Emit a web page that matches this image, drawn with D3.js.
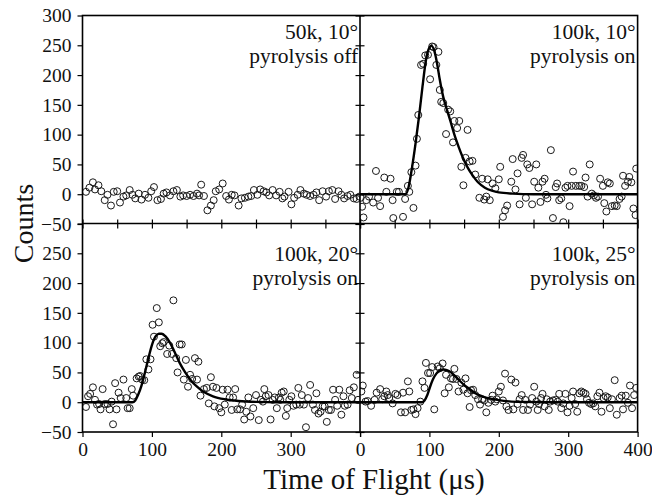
<!DOCTYPE html>
<html>
<head>
<meta charset="utf-8">
<script src="https://cdn.jsdelivr.net/npm/d3@7"></script>
<style>
  body { margin: 0; background: #fff; }
  svg text { font-family: "Liberation Serif", "Times New Roman", serif; fill: #111; }
</style>
</head>
<body>
<div id="chart"></div>
<script>
// time of flight (us) / counts, one array per panel
const offPts = [[5,4],[10,11],[15,20],[18,8],[23,15],[27,5],[32,-10],[36,-1],[41,-19],[45,4],[50,5],[54,-14],[59,-4],[63,-2],[68,7],[72,-1],[76,-7],[81,1],[85,-9],[90,-1],[95,-6],[99,5],[103,12],[108,-10],[113,-8],[117,1],[121,3],[126,-2],[131,5],[136,7],[141,-4],[145,-2],[150,-3],[155,-1],[160,-3],[165,1],[168,-2],[171,16],[175,-3],[180,-27],[185,-19],[189,-10],[192,5],[197,8],[202,18],[207,-3],[211,-9],[215,-1],[219,-2],[225,-19],[229,-7],[234,-6],[239,-4],[243,-3],[247,7],[252,-1],[256,8],[261,5],[265,3],[269,-2],[274,7],[279,-2],[284,4],[288,-7],[291,-4],[297,4],[301,-17],[305,-6],[310,-1],[314,7],[319,1],[323,-1],[328,-3],[333,-1],[337,3],[341,-10],[346,5],[351,-4],[355,5],[360,7],[364,-8],[369,5],[373,-1],[377,-7],[382,-3],[386,-1],[391,-7],[395,-8],[399,-4]];

const on10Pts = [[1,-6],[3,-21],[5,-39],[9,-10],[13,-4],[19,-14],[23,39],[26,-6],[29,-20],[35,28],[38,4],[44,26],[47,-10],[48,-40],[53,4],[56,4],[62,-38],[65,-8],[69,14],[71,4],[74,37],[77,-23],[80,48],[82,93],[84,133],[88,217],[91,219],[94,233],[98,234],[101,193],[104,248],[106,247],[110,217],[113,239],[115,175],[117,155],[120,153],[124,101],[127,142],[130,139],[134,87],[136,123],[140,111],[143,123],[146,46],[149,15],[152,61],[155,108],[158,55],[162,56],[166,33],[172,-6],[176,26],[179,-9],[182,-4],[184,25],[187,-10],[191,18],[195,10],[200,25],[202,46],[206,-38],[209,-27],[212,-19],[218,21],[220,59],[224,8],[227,35],[230,-17],[233,61],[235,66],[239,-6],[241,50],[244,44],[248,-17],[251,21],[254,50],[257,11],[260,-13],[263,21],[266,26],[268,-1],[270,-7],[275,74],[278,-40],[282,12],[284,18],[287,-10],[290,-7],[293,-47],[296,11],[299,14],[302,-20],[305,14],[307,38],[311,14],[316,14],[319,14],[323,12],[325,28],[328,-4],[331,50],[334,1],[337,-2],[340,-6],[343,-4],[346,26],[350,14],[352,-15],[355,-29],[357,20],[360,18],[363,-20],[367,-19],[370,-20],[374,-8],[377,-4],[379,31],[382,14],[386,21],[388,29],[391,20],[394,-24],[397,-35],[398,43]];

const on20Pts = [[5,-8],[8,10],[11,14],[15,25],[18,4],[21,-4],[24,-3],[26,-12],[29,22],[32,-3],[36,-3],[39,-12],[42,1],[44,-37],[47,32],[49,-12],[52,16],[55,7],[59,38],[63,7],[65,-10],[68,-10],[71,22],[73,11],[78,40],[81,43],[83,44],[86,38],[89,37],[92,72],[95,55],[98,72],[101,130],[103,110],[107,158],[110,134],[112,94],[115,99],[117,101],[122,81],[125,95],[129,81],[131,171],[135,74],[137,50],[140,97],[143,97],[146,38],[149,71],[152,26],[155,46],[158,39],[162,74],[165,38],[167,68],[170,11],[175,22],[179,24],[182,-2],[185,42],[188,26],[190,-7],[193,24],[197,-10],[200,-17],[202,21],[205,-4],[209,21],[212,8],[215,-13],[217,8],[220,22],[223,-12],[227,-12],[230,-4],[233,-29],[236,-16],[239,8],[242,-24],[246,-10],[250,12],[254,-30],[257,4],[260,1],[262,22],[264,10],[268,12],[271,-29],[274,4],[277,8],[280,-10],[283,8],[285,4],[287,16],[290,18],[293,-23],[295,-10],[298,4],[301,10],[304,-6],[308,-4],[311,24],[313,-4],[316,12],[319,-4],[322,-42],[325,7],[328,29],[332,-4],[335,-13],[337,15],[340,-19],[343,-16],[346,-7],[349,-7],[352,-33],[355,-13],[358,-13],[361,21],[364,4],[367,-6],[370,21],[373,-21],[376,10],[378,-6],[382,-4],[385,20],[388,7],[391,25],[395,46],[397,4]];

const on25Pts = [[2,18],[4,28],[8,1],[11,2],[16,-6],[21,4],[24,16],[29,22],[32,5],[35,10],[38,18],[40,12],[42,7],[47,-2],[51,14],[54,12],[59,-17],[62,16],[65,-17],[69,35],[71,18],[74,-13],[77,-12],[80,-20],[83,-10],[87,1],[90,35],[93,24],[95,66],[98,49],[101,49],[104,59],[107,-12],[112,60],[115,57],[119,65],[122,15],[124,46],[128,25],[131,40],[134,39],[136,56],[139,39],[142,18],[146,33],[149,21],[152,40],[155,15],[158,-8],[160,20],[163,21],[166,12],[170,5],[173,-4],[176,5],[179,3],[182,-17],[185,-1],[189,4],[191,11],[195,1],[197,5],[200,18],[203,26],[206,3],[209,48],[211,-7],[214,-13],[218,38],[221,-12],[224,33],[227,-3],[230,5],[233,12],[235,-13],[238,4],[242,-13],[245,-4],[248,7],[251,26],[254,1],[256,-13],[258,-3],[261,7],[263,14],[266,-7],[269,5],[272,-13],[274,1],[278,3],[282,4],[285,1],[287,14],[290,-10],[293,-2],[296,14],[299,-17],[302,-6],[305,7],[307,18],[310,-3],[313,-16],[316,15],[319,18],[322,16],[325,14],[327,5],[330,-1],[333,-3],[336,-2],[339,-7],[342,10],[345,16],[348,-16],[351,7],[354,10],[357,8],[360,-10],[363,5],[367,37],[370,-21],[374,7],[377,11],[379,-12],[383,11],[386,-1],[389,28],[392,-10],[395,12],[398,24]];

// fitted curves
const on10Fit = [[0,0],[66,0],[70,12],[75,45],[80,85],[85,130],[90,180],[95,225],[100,246],[103,249],[107,241],[111,220],[115,192],[120,163],[125,143],[130,124],[136,100],[142,80],[148,62],[155,45],[162,32],[170,20],[180,11],[190,6],[200,3],[220,1],[250,0],[400,0]];
const on20Fit = [[0,0],[72,0],[76,3],[80,12],[85,28],[90,50],[95,74],[100,96],[105,110],[110,115],[114,115],[120,110],[126,100],[132,86],[140,66],[148,50],[156,37],[165,26],[175,17],[188,10],[205,5],[225,2],[250,0.5],[280,0],[400,0]];
const on25Fit = [[0,0],[89,0],[93,3],[97,12],[101,26],[105,38],[110,48],[115,53],[120,55],[125,54],[130,51],[136,45],[142,38],[150,29],[158,22],[166,15],[176,10],[188,6],[200,3.5],[215,1.5],[235,0.5],[260,0],[400,0]];

const panelLabels = [["50k, 10°", "pyrolysis off"], ["100k, 10°", "pyrolysis on"], ["100k, 20°", "pyrolysis on"], ["100k, 25°", "pyrolysis on"]];

const xMajor = [0, 100, 200, 300, 400];
const xMinor = [50, 150, 250, 350];
const yMajor = [-50, 0, 50, 100, 150, 200, 250, 300];
const yMinor = [-25, 25, 75, 125, 175, 225, 275];

const W = 652, H = 499;
const colX = [82.5, 360], pw = 277.6;
const rowY = [15.5, 223.5], ph = 208.5;

const panels = [
  {c: 0, r: 0, pts: offPts, fit: null, lab: panelLabels[0]},
  {c: 1, r: 0, pts: on10Pts, fit: on10Fit, lab: panelLabels[1]},
  {c: 0, r: 1, pts: on20Pts, fit: on20Fit, lab: panelLabels[2]},
  {c: 1, r: 1, pts: on25Pts, fit: on25Fit, lab: panelLabels[3]}
];

const svg = d3.select("#chart").append("svg")
  .attr("width", W).attr("height", H);

const fmt = d => d < 0 ? "\u2212" + Math.abs(d) : String(d);

panels.forEach((p, i) => {
  const x0 = colX[p.c], y0 = rowY[p.r];
  const x = d3.scaleLinear().domain([0, 400]).range([x0, x0 + pw]);
  const y = d3.scaleLinear().domain([-50, 300]).range([y0 + ph, y0]);

  svg.append("clipPath").attr("id", "clip" + i)
    .append("rect").attr("x", x0).attr("y", y0).attr("width", pw).attr("height", ph);

  const g = svg.append("g").attr("clip-path", "url(#clip" + i + ")");

  g.selectAll("circle")
    .data(p.pts)
    .join("circle")
      .attr("cx", d => x(d[0]))
      .attr("cy", d => y(d[1]))
      .attr("r", 3.5)
      .attr("fill", "none")
      .attr("stroke", "#1a1a1a")
      .attr("stroke-width", 1);

  if (p.fit) {
    g.append("path")
      .datum(p.fit)
      .attr("fill", "none")
      .attr("stroke", "#000")
      .attr("stroke-width", 2.4)
      .attr("d", d3.line().x(d => x(d[0])).y(d => y(d[1])).curve(d3.curveMonotoneX));
  }

  // annotation, right aligned in the panel
  const base = p.r == 0 ? y0 + 23.5 : y0 + 37.5;
  p.lab.forEach((t, k) => {
    svg.append("text")
      .attr("x", x0 + pw - 2)
      .attr("y", base + k * 23.5)
      .attr("text-anchor", "end")
      .attr("font-size", 21.5)
      .text(t);
  });

  // y ticks
  if (p.c == 0) {
    const ax = svg.append("g").attr("transform", `translate(${x0},0)`);
    ax.call(d3.axisLeft(y).tickValues(yMinor).tickSize(3).tickFormat(""));
    ax.call(d3.axisLeft(y).tickValues(yMajor).tickSize(5).tickPadding(6)
      .tickFormat(d => (p.r == 1 && d == 300) ? "" : fmt(d)));
    ax.selectAll(".domain").remove();
    ax.selectAll("text").attr("font-size", 19.5).attr("fill", "#111");
    ax.selectAll("line").attr("stroke", "#000").attr("stroke-width", 1.2);
  } else {
    // shared middle axis, ticks cross the line
    [d3.axisLeft, d3.axisRight].forEach(f => {
      const ax = svg.append("g").attr("transform", `translate(${x0},0)`);
      ax.call(f(y).tickValues(yMinor).tickSize(3).tickFormat(""));
      ax.call(f(y).tickValues(yMajor).tickSize(4.5).tickFormat(""));
      ax.selectAll(".domain").remove();
      ax.selectAll("line").attr("stroke", "#000").attr("stroke-width", 1.2);
    });
  }

  // x ticks
  if (p.r == 1) {
    const ax = svg.append("g").attr("transform", `translate(0,${y0 + ph})`);
    ax.call(d3.axisBottom(x).tickValues(xMinor).tickSize(5).tickFormat(""));
    ax.call(d3.axisBottom(x).tickValues(xMajor).tickSize(5).tickPadding(5)
      .tickFormat(d => (p.c == 0 && d == 400) ? "" : fmt(d)));
    ax.selectAll(".domain").remove();
    ax.selectAll("text").attr("font-size", 19.5).attr("fill", "#111");
    ax.selectAll("line").attr("stroke", "#000").attr("stroke-width", 1.2);
  } else {
    [d3.axisTop, d3.axisBottom].forEach(f => {
      const ax = svg.append("g").attr("transform", `translate(0,${y0 + ph})`);
      ax.call(f(x).tickValues(xMinor.concat(xMajor)).tickSize(4.5).tickFormat(""));
      ax.selectAll(".domain").remove();
      ax.selectAll("line").attr("stroke", "#000").attr("stroke-width", 1.2);
    });
  }
});

// frame and dividing lines
const fx0 = colX[0], fx1 = colX[1] + pw, fy0 = rowY[0], fy1 = rowY[1] + ph;
svg.append("rect")
  .attr("x", fx0).attr("y", fy0).attr("width", fx1 - fx0).attr("height", fy1 - fy0)
  .attr("fill", "none").attr("stroke", "#000").attr("stroke-width", 1.6);
svg.append("line").attr("x1", colX[1]).attr("x2", colX[1]).attr("y1", fy0).attr("y2", fy1)
  .attr("stroke", "#000").attr("stroke-width", 1.6);
svg.append("line").attr("x1", fx0).attr("x2", fx1).attr("y1", rowY[1]).attr("y2", rowY[1])
  .attr("stroke", "#000").attr("stroke-width", 1.6);

// axis titles
svg.append("text")
  .attr("transform", `translate(33,${rowY[1]}) rotate(-90)`)
  .attr("text-anchor", "middle")
  .attr("font-size", 28)
  .text("Counts");

svg.append("text")
  .attr("x", 374).attr("y", 489)
  .attr("text-anchor", "middle")
  .attr("font-size", 29)
  .text("Time of Flight (\u03bcs)");
</script>
</body>
</html>
